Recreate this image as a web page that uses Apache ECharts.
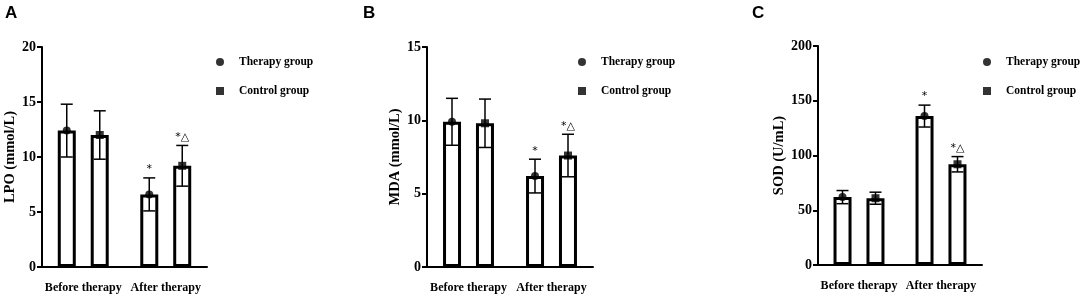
<!DOCTYPE html>
<html>
<head>
<meta charset="utf-8">
<script src="https://cdn.jsdelivr.net/npm/echarts@6/dist/echarts.min.js"></script>
<style>
  html, body { margin: 0; padding: 0; background: #fff; }
  #chart { width: 1084px; height: 300px; }
</style>
</head>
<body>
<div id="chart"></div>
<script>
// ── Data ────────────────────────────────────────────────────────────────
const categories = ['Before therapy', 'After therapy'];
const groupNames = ['Therapy group', 'Control group'];

// LPO (mmol/L)
const lpoTherapyMean = [12.4, 6.6];
const lpoTherapySd   = [2.4, 1.5];
const lpoControlMean = [12.0, 9.2];
const lpoControlSd   = [2.2, 1.85];

// MDA (mmol/L)
const mdaTherapyMean = [9.9, 6.2];
const mdaTherapySd   = [1.6, 1.15];
const mdaControlMean = [9.8, 7.6];
const mdaControlSd   = [1.65, 1.45];

// SOD (U/mL)
const sodTherapyMean = [62, 136];
const sodTherapySd   = [6, 10];
const sodControlMean = [61, 92];
const sodControlSd   = [5.5, 7];

// significance marks above the error bars
const therapyMarks = ['', '*'];
const controlMarks = ['', '*\u25B3'];

// ── Style ───────────────────────────────────────────────────────────────
const serif = "'Liberation Serif', 'Times New Roman', serif";
const black = '#000';
const barWidth = 18;
const barGap = '83%';
const halfStep = 16.5;   // px from category centre to each bar centre

const panels = [
  { letter: 'A', letterX: 5,   title: 'LPO (mmol/L)', max: 20,  interval: 5,  nameGap: 24,
    grid: { left: 42, top: 47, width: 165, height: 220 }, legend: { left: 211, top: 51 },
    therapy: [lpoTherapyMean, lpoTherapySd], control: [lpoControlMean, lpoControlSd] },
  { letter: 'B', letterX: 363, title: 'MDA (mmol/L)', max: 15,  interval: 5,  nameGap: 23,
    grid: { left: 427, top: 47, width: 166, height: 220 }, legend: { left: 573, top: 51 },
    therapy: [mdaTherapyMean, mdaTherapySd], control: [mdaControlMean, mdaControlSd] },
  { letter: 'C', letterX: 752, title: 'SOD (U/mL)', max: 200, interval: 50, nameGap: 30,
    grid: { left: 818, top: 46, width: 164, height: 219 }, legend: { left: 978, top: 51 },
    therapy: [sodTherapyMean, sodTherapySd], control: [sodControlMean, sodControlSd] },
];

function errorBar(offset) {
  return function (params, api) {
    const idx = api.value(0);
    const mean = api.value(1);
    const sd = api.value(2);
    const mark = api.value(3);
    const top = api.coord([idx, mean + sd]);
    const bot = api.coord([idx, mean - sd]);
    const x = top[0] + offset;
    const cap = 6;
    const lineStyle = { stroke: black, lineWidth: 1.5 };
    const children = [
      { type: 'line', shape: { x1: x, y1: top[1], x2: x, y2: bot[1] }, style: lineStyle },
      { type: 'line', shape: { x1: x - cap, y1: top[1], x2: x + cap, y2: top[1] }, style: lineStyle },
      { type: 'line', shape: { x1: x - cap, y1: bot[1], x2: x + cap, y2: bot[1] }, style: lineStyle },
    ];
    if (mark) {
      children.push({
        type: 'text',
        style: { text: mark, x: x, y: top[1] - 3, fill: black, fontSize: 11,
                 fontFamily: "'DejaVu Sans', sans-serif", align: 'center', verticalAlign: 'bottom' },
      });
    }
    return { type: 'group', children: children };
  };
}

const grids = [], xAxes = [], yAxes = [], series = [], legends = [], graphics = [];

panels.forEach((p, i) => {
  grids.push(p.grid);
  xAxes.push({
    type: 'category', gridIndex: i, data: categories,
    axisLine: { lineStyle: { color: black, width: 2 } },
    axisTick: { alignWithLabel: true, interval: 0, length: 5, lineStyle: { color: black, width: 2 } },
    axisLabel: { interval: 0, color: black, fontFamily: serif, fontWeight: 'bold', fontSize: 12, margin: 15 },
    splitLine: { show: false },
  });
  yAxes.push({
    type: 'value', gridIndex: i, min: 0, max: p.max, interval: p.interval,
    name: p.title, nameLocation: 'middle', nameGap: p.nameGap,
    nameTextStyle: { color: black, fontFamily: serif, fontWeight: 'bold', fontSize: 14.5 },
    axisLine: { show: true, lineStyle: { color: black, width: 2 } },
    axisTick: { show: true, length: 5, lineStyle: { color: black, width: 2 } },
    axisLabel: { color: black, fontFamily: serif, fontWeight: 'bold', fontSize: 14, margin: 6 },
    splitLine: { show: false },
  });

  const groups = [
    { name: groupNames[0], mean: p.therapy[0], sd: p.therapy[1], marks: therapyMarks, symbol: 'circle', off: -halfStep },
    { name: groupNames[1], mean: p.control[0], sd: p.control[1], marks: controlMarks, symbol: 'rect', off: halfStep },
  ];

  groups.forEach((g) => {
    series.push({
      type: 'bar', name: g.name + ' bar', xAxisIndex: i, yAxisIndex: i,
      data: g.mean, barWidth: barWidth, barGap: barGap, silent: true,
      itemStyle: { color: '#fff', borderColor: black, borderWidth: 3 },
    });
  });
  groups.forEach((g) => {
    series.push({
      type: 'custom', name: g.name + ' err', xAxisIndex: i, yAxisIndex: i,
      renderItem: errorBar(g.off), silent: true, z: 3,
      data: g.mean.map((m, k) => [k, m, g.sd[k], g.marks[k]]),
    });
  });
  groups.forEach((g) => {
    series.push({
      type: 'scatter', name: g.name, xAxisIndex: i, yAxisIndex: i,
      data: g.mean, symbol: g.symbol, symbolSize: 8, symbolOffset: [g.off, 0],
      itemStyle: { color: black }, z: 4, silent: true,
    });
  });

  legends.push({
    data: [{ name: groupNames[0], icon: 'circle' }, { name: groupNames[1], icon: 'rect' }],
    orient: 'vertical', left: p.legend.left, top: p.legend.top,
    itemWidth: 8, itemHeight: 8, itemGap: 17, selectedMode: false,
    itemStyle: { color: black },
    textStyle: { color: black, fontFamily: serif, fontWeight: 'bold', fontSize: 11.5,
                 padding: [0, 0, 0, 10] },
  });

  graphics.push({
    type: 'text', left: p.letterX, top: 5,
    style: { text: p.letter, fill: black, fontFamily: "'Liberation Sans', Arial, sans-serif",
             fontWeight: 'bold', fontSize: 17 },
  });
});

const chart = echarts.init(document.getElementById('chart'), null, { renderer: 'canvas' });
chart.setOption({
  animation: false,
  backgroundColor: '#fff',
  tooltip: { show: false },
  grid: grids,
  xAxis: xAxes,
  yAxis: yAxes,
  legend: legends,
  graphic: graphics,
  series: series,
});
</script>
</body>
</html>
